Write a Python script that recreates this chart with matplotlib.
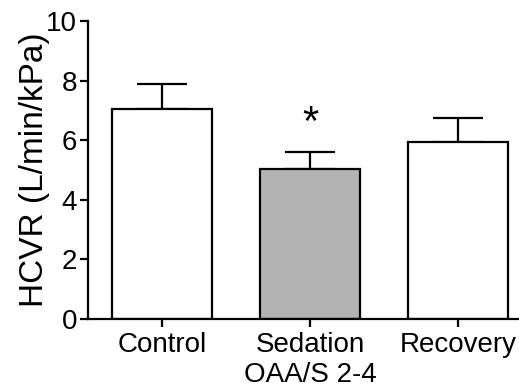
import matplotlib.pyplot as plt

plt.rcParams['font.family'] = ['Liberation Sans', 'DejaVu Sans']

groups = ['Control', 'Sedation\nOAA/S 2-4', 'Recovery']
means = [7.05, 5.02, 5.93]
sem = [0.82, 0.6, 0.83]
colors = ['white', '#b3b3b3', 'white']

fig = plt.figure(figsize=(5.19, 3.91), dpi=100)
ax = fig.add_axes([88 / 519, 72 / 391, 1 - 88 / 519, 298 / 391])

x = range(len(groups))
ax.bar(x, means, width=0.676, color=colors, edgecolor='black', linewidth=1.6, zorder=2)
ax.errorbar(x, means, yerr=[[0] * 3, sem], fmt='none', ecolor='black',
            elinewidth=1.6, capsize=18, capthick=1.6, zorder=1)

ax.text(1, 5.87, '*', ha='center', va='bottom', fontsize=30)

ax.set_xlim(-0.5, 2.41)
ax.set_ylim(0, 10)
ax.set_yticks([0, 2, 4, 6, 8, 10])
ax.set_xticks(list(x))
ax.set_xticklabels(groups, fontsize=20, linespacing=1.25)
ax.tick_params(axis='y', labelsize=20, width=1.6, length=6, pad=2)
ax.tick_params(axis='x', width=1.6, length=6, pad=3)
ax.set_ylabel('HCVR (L/min/kPa)', fontsize=24, labelpad=-3)

for s in ['top', 'right']:
    ax.spines[s].set_visible(False)
for s in ['left', 'bottom']:
    ax.spines[s].set_linewidth(1.6)

fig.savefig('out.png', dpi=100)
